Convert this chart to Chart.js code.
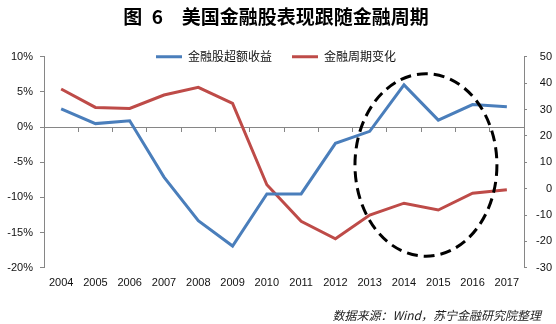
<!DOCTYPE html>
<html>
<head>
<meta charset="utf-8">
<script src="https://cdn.jsdelivr.net/npm/chart.js@4.4.1/dist/chart.umd.min.js"></script>
<style>
  html, body { margin: 0; padding: 0; background: #fff; }
  #wrap { position: relative; width: 556px; height: 324px; }
  #source {
    position: absolute; right: 15px; top: 306px;
    font: italic 12px "Noto Sans CJK SC", sans-serif; line-height: 18px; color: #222;
  }
</style>
</head>
<body>
<div id="wrap">
  <canvas id="chart" width="556" height="324"></canvas>
  <div id="source">数据来源：Wind，苏宁金融研究院整理</div>
</div>
<script>
// 数据
const years = ["2004","2005","2006","2007","2008","2009","2010","2011","2012","2013","2014","2015","2016","2017"];
const excessReturn = [2.6, 0.5, 0.9, -7.1, -13.3, -16.9, -9.5, -9.5, -2.3, -0.6, 6.0, 1.0, 3.2, 2.9];   // 左轴, %
const cycleChange = [37.8, 30.8, 30.4, 35.5, 38.4, 32.3, 1.5, -12.4, -19.0, -10.0, -5.5, -8.1, -1.7, -0.4]; // 右轴
const leftTicks = { min: -20, max: 10, step: 5 };
const rightTicks = { min: -30, max: 50, step: 10 };

// 虚线圈 (x: 类别序号, y: 右轴数值)
const ringCenter = { x: 10.64, y: 9 };
const ringRadius = { x: 2.07, y: 34.6 };

const AXIS_GRAY = "#868686";
const BLUE = "#4A7EBB";
const RED = "#BE4B48";
const tickFont = { family: "Liberation Sans", size: 11 };

// 让图例与绘图区顶部重叠
const legendOverlap = {
    id: "legendOverlap",
    afterInit(chart){
        const fit = chart.legend.fit;
        chart.legend.fit = function(){
            fit.call(this);
            this.height = 26;
        };
    },
    afterLayout(chart){
        // 图例绘制时会按自身区域裁剪，布局完成后再放大
        chart.legend.bottom = chart.legend.top + 45;
        chart.legend.height = 45;
    }
};

const dashedRing = {
    id: "dashedRing",
    afterDatasetsDraw(chart){
        const { ctx, scales } = chart;
        const cx = scales.x.getPixelForValue(ringCenter.x);
        const cy = scales.y1.getPixelForValue(ringCenter.y);
        const rx = Math.abs(scales.x.getPixelForValue(ringCenter.x + ringRadius.x) - cx);
        const ry = Math.abs(scales.y1.getPixelForValue(ringCenter.y + ringRadius.y) - cy);
        ctx.save();
        ctx.beginPath();
        ctx.ellipse(cx, cy, rx, ry, 0, 0, Math.PI * 2);
        ctx.setLineDash([11, 6]);
        ctx.lineWidth = 3;
        ctx.strokeStyle = "#000";
        ctx.stroke();
        ctx.restore();
    }
};

new Chart(document.getElementById("chart"), {
    type: "line",
    data: {
        labels: years,
        datasets: [{
            label: "金融股超额收益",
            data: excessReturn,
            yAxisID: "y",
            borderColor: BLUE,
            backgroundColor: BLUE,
            borderWidth: 3,
            pointRadius: 0,
            tension: 0
        }, {
            label: "金融周期变化",
            data: cycleChange,
            yAxisID: "y1",
            borderColor: RED,
            backgroundColor: RED,
            borderWidth: 3,
            pointRadius: 0,
            tension: 0
        }]
    },
    options: {
        responsive: false,
        animation: false,
        layout: { padding: { left: 0, right: 4, top: 0, bottom: 25 } },
        plugins: {
            title: {
                display: true,
                text: "图\u20026　美国金融股表现跟随金融周期",
                color: "#000",
                font: { family: "Noto Sans CJK SC", size: 19, weight: "bold" },
                padding: { top: 5, bottom: 3 }
            },
            legend: {
                position: "top",
                labels: {
                    usePointStyle: true,
                    pointStyle: "line",
                    pointStyleWidth: 26,
                    padding: 20,
                    color: "#111",
                    font: { family: "Noto Sans CJK SC", size: 12 }
                }
            },
            tooltip: { enabled: false }
        },
        scales: {
            x: {
                type: "category",
                offset: true,
                border: { display: false },
                grid: { display: false, drawTicks: false },
                ticks: { font: tickFont, color: "#111", padding: 9, maxRotation: 0 }
            },
            xZero: {
                type: "category",
                labels: years,
                offset: true,
                position: { y: 0 },
                border: { color: AXIS_GRAY, width: 1 },
                grid: { offset: true, drawOnChartArea: false, tickLength: 4, color: AXIS_GRAY },
                ticks: { display: false }
            },
            y: {
                position: "left",
                min: leftTicks.min,
                max: leftTicks.max,
                afterFit: (axis) => { axis.width = 44; },
                border: { color: AXIS_GRAY },
                grid: { drawOnChartArea: false, tickLength: 4, color: AXIS_GRAY },
                ticks: {
                    stepSize: leftTicks.step,
                    padding: 7,
                    font: tickFont,
                    color: "#111",
                    callback: (v) => v + "%"
                }
            },
            y1: {
                position: "right",
                min: rightTicks.min,
                max: rightTicks.max,
                afterFit: (axis) => { axis.width = 28; },
                border: { color: AXIS_GRAY },
                grid: { drawOnChartArea: false, tickLength: 3, color: AXIS_GRAY },
                ticks: {
                    stepSize: rightTicks.step,
                    padding: 0,
                    crossAlign: "far",
                    font: tickFont,
                    color: "#111"
                }
            }
        }
    },
    plugins: [legendOverlap, dashedRing]
});
</script>
</body>
</html>
